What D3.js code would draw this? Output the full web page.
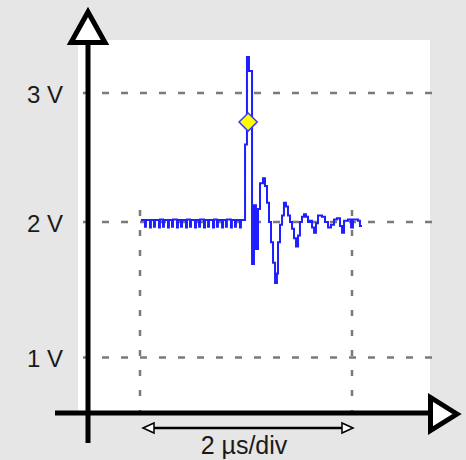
<!DOCTYPE html>
<html>
<head>
<meta charset="utf-8">
<script src="https://cdn.jsdelivr.net/npm/d3@7"></script>
<style>
body { margin: 0; background: #e6e6e6; }
</style>
</head>
<body>
<div id="scope"></div>
<script>
// Waveform samples (time in µs, level in V)
var times = [
  0.009,
  0.047, 0.056, 0.094, 0.103, 0.132, 0.141, 0.179, 0.188, 0.217, 0.226,
  0.264, 0.273, 0.302, 0.311, 0.349, 0.358, 0.387, 0.396, 0.434, 0.443,
  0.472, 0.481, 0.519, 0.528, 0.557, 0.566, 0.604, 0.613, 0.642, 0.651,
  0.689, 0.698, 0.726, 0.735, 0.774, 0.783, 0.811, 0.820, 0.858, 0.867,
  0.896, 0.905, 0.943, 0.952,
  0.991, 1.009, 1.028, 1.057, 1.075, 1.094, 1.113, 1.132, 1.160, 1.179,
  1.198, 1.217, 1.236, 1.255, 1.274, 1.292, 1.302, 1.321, 1.340, 1.358,
  1.377, 1.396, 1.415, 1.434, 1.453, 1.472, 1.491, 1.509, 1.528, 1.547,
  1.566, 1.585, 1.604, 1.623, 1.642, 1.660, 1.679, 1.717, 1.745, 1.774,
  1.802, 1.830, 1.858, 1.887, 1.906, 1.925, 1.962, 1.991, 2.009, 2.057,
  2.075, 2.094
];
var volts = [
  2.015,
  1.965, 2.015, 1.96, 2.015, 1.965, 2.015, 1.96, 2.02, 1.965, 2.015,
  1.96, 2.015, 1.965, 2.02, 1.96, 2.015, 1.965, 2.015, 1.96, 2.02,
  1.965, 2.015, 1.96, 2.015, 1.965, 2.02, 1.96, 2.015, 1.965, 2.015,
  1.96, 2.02, 1.965, 2.015, 1.96, 2.015, 1.965, 2.02, 1.96, 2.015,
  1.965, 2.015, 1.96, 2.015,
  2.60, 3.28, 3.17, 1.69, 2.13, 1.80, 2.10, 2.30, 2.34, 2.28,
  2.15, 2.00, 1.85, 1.70, 1.55, 1.62, 1.85, 1.98, 2.05, 2.15,
  2.12, 2.05, 2.00, 1.95, 1.88, 1.82, 1.90, 2.00, 2.04, 2.06,
  2.04, 2.00, 2.01, 1.96, 1.92, 1.99, 2.05, 2.04, 2.00, 1.96,
  1.98, 2.02, 2.03, 1.97, 1.92, 2.01, 2.02, 1.96, 2.02, 2.01,
  1.97, 1.97
];

var levelTicks = [1, 2, 3];
var levelLabels = ["1 V", "2 V", "3 V"];
var divSpan = [0, 2];          // one division in µs
var divLabel = "2 µs/div";
var markerTime = [1.02];
var markerVolt = [2.775];

var svgWidth = 466;
var svgHeight = 460;

var svg = d3.select("#scope")
    .append("svg")
    .attr("width", svgWidth)
    .attr("height", svgHeight);

// background and screen area
svg.append("rect")
    .attr("width", svgWidth)
    .attr("height", svgHeight)
    .attr("fill", "#e6e6e6");

svg.append("rect")
    .attr("x", 78)
    .attr("y", 40)
    .attr("width", 352)
    .attr("height", 373)
    .attr("fill", "#ffffff");

// scales
var x = d3.scaleLinear()
    .domain([0, 2])
    .range([140, 352]);

var y = d3.scaleLinear()
    .domain([1, 2, 3])
    .range([357.5, 222, 93]);

// horizontal dashed grid
svg.selectAll(".grid")
    .data(levelTicks)
    .enter()
    .append("line")
    .attr("class", "grid")
    .attr("x1", 83)
    .attr("x2", 441)
    .attr("y1", d => y(d))
    .attr("y2", d => y(d))
    .attr("stroke", "#7a7a7a")
    .attr("stroke-width", 2.5)
    .attr("stroke-dasharray", "7,12");

// vertical dotted markers for the division
svg.selectAll(".divline")
    .data(divSpan)
    .enter()
    .append("line")
    .attr("class", "divline")
    .attr("x1", d => x(d))
    .attr("x2", d => x(d))
    .attr("y1", 210)
    .attr("y2", 411)
    .attr("stroke", "#7a7a7a")
    .attr("stroke-width", 2.5)
    .attr("stroke-dasharray", "6,14");

// labels on the left
var leftAxis = d3.axisLeft(y)
    .tickValues(levelTicks)
    .tickFormat((d, i) => levelLabels[i])
    .tickSize(0)
    .tickPadding(25);

var axisG = svg.append("g")
    .attr("transform", "translate(88,0)")
    .call(leftAxis);
axisG.select(".domain").remove();
axisG.selectAll("text")
    .attr("font-family", "'Liberation Sans', Arial, sans-serif")
    .attr("font-size", "24px")
    .attr("fill", "#1a1a1a")
    .attr("dy", "0.38em");

// waveform
var points = times.map((t, i) => [t, volts[i]]);
var line = d3.line()
    .x(d => x(d[0]))
    .y(d => y(d[1]))
    .curve(d3.curveStepAfter);

svg.append("path")
    .datum(points)
    .attr("d", line)
    .attr("fill", "none")
    .attr("stroke", "#1e1eff")
    .attr("stroke-width", 2);

// measurement marker
svg.selectAll(".marker")
    .data(markerTime)
    .enter()
    .append("path")
    .attr("class", "marker")
    .attr("d", d3.symbol(d3.symbolSquare, 165))
    .attr("transform", (d, i) => `translate(${x(d)},${y(markerVolt[i])}) rotate(45)`)
    .attr("fill", "#ffff00")
    .attr("stroke", "#3a3aff")
    .attr("stroke-width", 1.5);

// axes with open arrow heads
svg.append("line")
    .attr("x1", 88).attr("x2", 88)
    .attr("y1", 45).attr("y2", 443)
    .attr("stroke", "#000")
    .attr("stroke-width", 5);

svg.append("line")
    .attr("x1", 55).attr("x2", 431)
    .attr("y1", 413).attr("y2", 413)
    .attr("stroke", "#000")
    .attr("stroke-width", 5);

svg.append("path")
    .attr("d", "M88,12 L105,42.5 L71,42.5 Z")
    .attr("fill", "#fff")
    .attr("stroke", "#000")
    .attr("stroke-width", 5);

svg.append("path")
    .attr("d", "M457,414 L430.5,397.5 L430.5,430.5 Z")
    .attr("fill", "#fff")
    .attr("stroke", "#000")
    .attr("stroke-width", 5);

// division span arrow
var spanY = 428;
svg.append("line")
    .attr("x1", x(divSpan[0]) + 10)
    .attr("x2", x(divSpan[1]) - 10)
    .attr("y1", spanY).attr("y2", spanY)
    .attr("stroke", "#000")
    .attr("stroke-width", 2.5);

svg.selectAll(".spanhead")
    .data(divSpan)
    .enter()
    .append("path")
    .attr("class", "spanhead")
    .attr("d", (d, i) => {
        var tip = i === 0 ? x(d) + 3 : x(d) + 1;
        var dir = i === 0 ? 1 : -1;
        return `M${tip},${spanY} L${tip + dir * 11},${spanY - 5} L${tip + dir * 11},${spanY + 5} Z`;
    })
    .attr("fill", "#fff")
    .attr("stroke", "#000")
    .attr("stroke-width", 1.5);

svg.append("text")
    .attr("x", (x(divSpan[0]) + x(divSpan[1])) / 2 - 2)
    .attr("y", 454)
    .attr("text-anchor", "middle")
    .attr("font-family", "'Liberation Sans', Arial, sans-serif")
    .attr("font-size", "25px")
    .attr("fill", "#1a1a1a")
    .text(divLabel);
</script>
</body>
</html>
